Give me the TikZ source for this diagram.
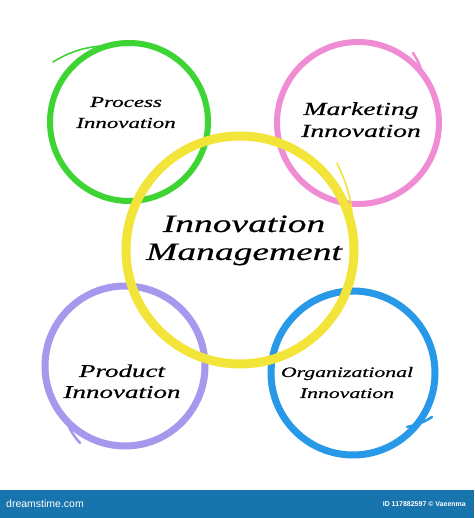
\documentclass[tikz,border=0pt]{standalone}
\usepackage{graphicx}
\usepackage{fontspec}
\setsansfont{Liberation Sans}
\newfontfamily\hand[FakeBold=0.4]{Liberation Serif}
\definecolor{cgreen}{RGB}{62,212,52}
\definecolor{cpink}{RGB}{240,140,212}
\definecolor{cyellow}{RGB}{242,228,56}
\definecolor{cpurple}{RGB}{166,152,236}
\definecolor{cblue}{RGB}{40,152,232}
\definecolor{cbar}{RGB}{24,116,172}
\newcommand\stretchtxt[1]{\scalebox{1.5}[1]{\begin{tabular}[t]{@{}c@{}}#1\end{tabular}}}
\begin{document}
\begin{tikzpicture}[x=1pt,y=1pt,
  brush/.style={line width=#1, line cap=round},
  tail/.style={line width=#1, line cap=round},
  lbl/.style={anchor=base, inner sep=0pt},
  barlbl/.style={text=white, inner sep=0pt}]
\useasboundingbox (0,0) rectangle (474,518);
\fill[white] (0,0) rectangle (474,518);
% outer circles
\draw[brush=6pt, cgreen] (129,396) circle[radius=79];
\draw[tail=1.6pt, cgreen] (100,472) to[bend right=12] (53,456);
\draw[brush=6pt, cpink] (358,395) circle[radius=81];
\draw[tail=2.5pt, cpink] (423,441) to[bend right=10] (413,465);
\draw[brush=7pt, cpurple] (125,152) circle[radius=80];
\draw[tail=2.5pt, cpurple] (67,96) to[bend right=10] (80,75);
\draw[brush=7pt, cblue] (353,145) circle[radius=82];
\draw[tail=2.5pt, cblue] (407,91) to[bend right=10] (432,101);
% central circle
\draw[brush=9pt, cyellow] (240,268) circle[radius=114];
\draw[tail=1.6pt, cyellow] (337,355) to[bend left=12] (353,288);
% labels
\node[lbl, font=\hand\fontsize{25}{28}\selectfont\itshape] (main) at (244,286)
  {\stretchtxt{Innovation\\Management}};
\node[lbl, font=\hand\fontsize{15.3}{21}\selectfont\itshape] (process) at (126,411)
  {\stretchtxt{Process\\Innovation}};
\node[lbl, font=\hand\fontsize{18.4}{22}\selectfont\itshape] (marketing) at (361,403)
  {\stretchtxt{Marketing\\Innovation}};
\node[lbl, font=\hand\fontsize{18}{21}\selectfont\itshape] (product) at (122,141)
  {\stretchtxt{Product\\Innovation}};
\node[lbl, font=\hand\fontsize{14.5}{21}\selectfont\itshape] (org) at (347,141)
  {\stretchtxt{Organizational\\Innovation}};
% bottom bar
\fill[cbar] (0,0) rectangle (474,28);
\node[barlbl, anchor=west, font=\sffamily\fontsize{10.5}{12}\selectfont] (dt) at (6,14) {dreamstime.com};
\node[barlbl, anchor=east, font=\sffamily\bfseries\fontsize{7}{8}\selectfont] (id) at (466,14) {ID 117882597 © Vaeenma};
\end{tikzpicture}
\end{document}
